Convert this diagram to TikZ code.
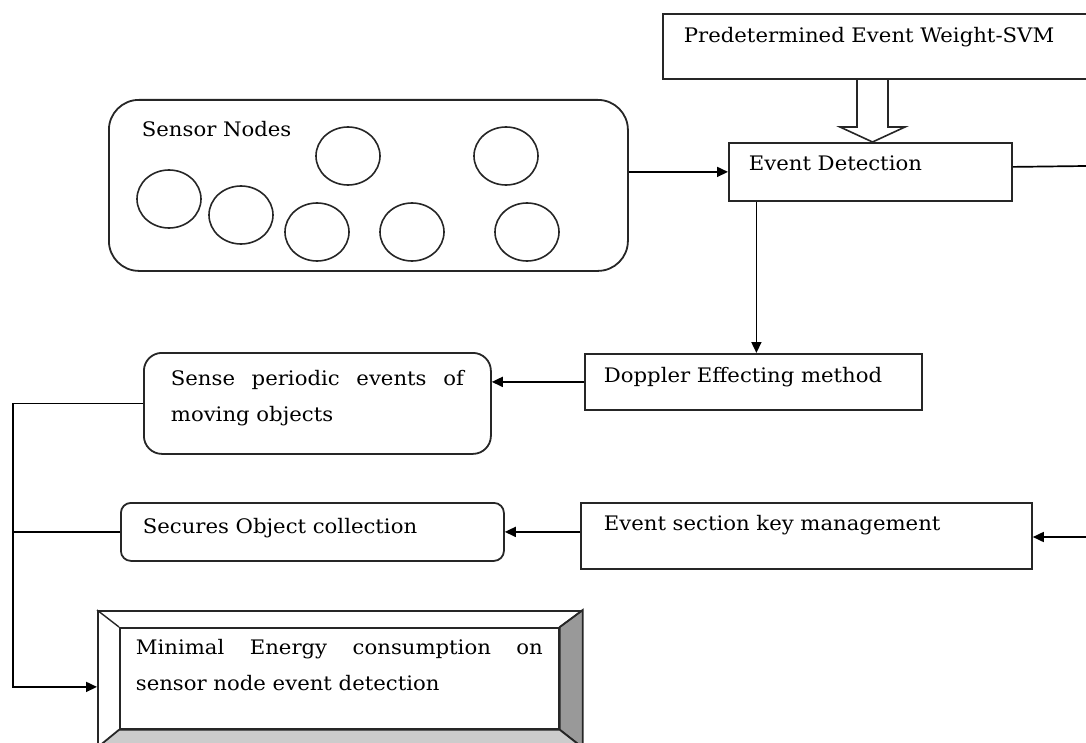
\documentclass[tikz,border=0pt]{standalone}
\usepackage{fontspec}
\setmainfont{DejaVu Serif}[FakeStretch=1.06]
\usetikzlibrary{arrows.meta}

\tikzset{
  box/.style={draw=black!85, line width=1.8pt, anchor=north west, inner ysep=0pt,
    align=left, font=\fontsize{20}{36}\selectfont},
  arr/.style={line width=1.7pt, -{Triangle[length=11pt,width=10pt]}},
  link/.style={line width=1.7pt},
  sensor/.style={line width=1.6pt, black!85},
}

\begin{document}
\begin{tikzpicture}[x=1pt,y=-1pt]
    \useasboundingbox (0,0) rectangle (1086,743);
    %% sensor field
    \node[box, rounded corners=30pt, inner xsep=33pt, text width=453pt,
          text height=37pt, text depth=134pt] (sensors) at (108,99) {Sensor Nodes};
    \foreach \cx/\cy in {169/199, 241/215, 348/156, 506/156, 317/232, 412/232, 527/232}
        \draw[sensor] (\cx,\cy) ellipse (32pt and 29pt);
    %% hollow arrow
    \draw[line width=1.6pt, black!85, fill=white]
        (857,78) -- (857,127) -- (840,127) -- (872.5,142) -- (905,127) -- (888,127) -- (888,78);
    %% upper boxes
    \node[box, fill=white, inner xsep=21pt, text width=396pt,
          text height=29pt, text depth=36pt] (svm) at (662,13) {Predetermined Event Weight-SVM};
    \node[box, inner xsep=20pt, text width=243pt,
          text height=28pt, text depth=30pt] (event) at (728,142) {Event Detection};
    \node[box, inner xsep=19pt, text width=299pt,
          text height=29pt, text depth=27pt] (doppler) at (584,353) {Doppler Effecting method};
    \node[box, inner xsep=23pt, text width=405pt,
          text height=28pt, text depth=38pt] (keymgmt) at (580,502) {Event section key management};
    %% left boxes
    \node[box, rounded corners=18pt, align=justify, inner xsep=27pt, text width=293pt,
          text height=33pt, text depth=68pt] (sense) at (143,352)
          {Sense periodic events of\linebreak moving objects};
    \node[box, rounded corners=10pt, inner xsep=22pt, text width=339pt,
          text height=31pt, text depth=27pt] (secures) at (120,502) {Secures Object collection};
    %% bevelled box
    \node[draw=black!85, line width=1.8pt, anchor=north west, inner sep=0pt,
          minimum width=484pt, minimum height=136pt] (frame) at (97,610) {};
    \node[box, align=justify, inner xsep=16pt, text width=407pt,
          text height=27pt, text depth=74pt] (energy) at (119,627)
          {Minimal Energy consumption on\linebreak sensor node event detection};
    \filldraw[line width=1.8pt, draw=black!85, fill=black!40]
        (frame.north east) -- (frame.south east) -- (energy.south east) -- (energy.north east) -- cycle;
    \filldraw[line width=1.8pt, draw=black!85, fill=black!20]
        (frame.south west) -- (frame.south east) -- (energy.south east) -- (energy.south west) -- cycle;
    \draw[line width=1.4pt, black!85] (frame.north west) -- (energy.north west);
    \draw[line width=1.4pt, black!85] (frame.north east) -- (energy.north east);
    %% edges
    \coordinate (edgeA) at (1086,166);
    \coordinate (edgeB) at (1086,537);
    \draw[arr] (sensors.east |- event.west) -- (event.west);
    \draw[link] ([yshift=5pt]event.east) -- (edgeA);
    \draw[arr] ([xshift=-114pt]event.south) -- ([xshift=-114pt]event.south |- doppler.north);
    \draw[arr] (doppler.west) -- (doppler.west -| sense.east);
    \draw[arr] (edgeB) -- (edgeB -| keymgmt.east);
    \draw[arr] (keymgmt.west |- secures.east) -- (secures.east);
    \draw[link] (sense.west) -- ++(-130,0) coordinate (bustop);
    \draw[link] (secures.west) -- (secures.west -| bustop);
    \draw[arr] (bustop) |- ([yshift=-8pt]frame.west);
\end{tikzpicture}
\end{document}
